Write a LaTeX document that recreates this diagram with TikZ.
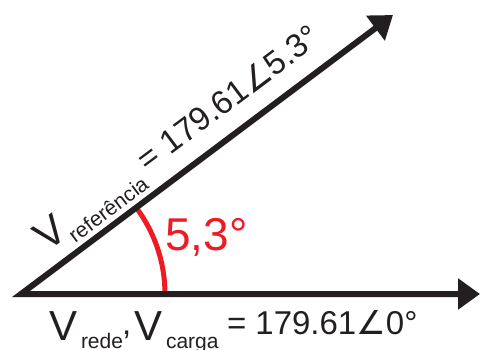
\documentclass[tikz,border=0pt]{standalone}
\usepackage{fontspec}
\setmainfont{Liberation Sans}
\newfontfamily\symfont{DejaVu Sans}
\usetikzlibrary{arrows.meta}
\definecolor{ink}{HTML}{231F20}
\definecolor{angred}{HTML}{ED1C24}
\newcommand{\fsz}[1]{\fontsize{#1}{#1}\selectfont}
\begin{document}
\begin{tikzpicture}[x=1pt,y=1pt,
  vec/.style={draw=ink,line width=6pt,line join=miter,
    {Triangle[length=22pt,width=30pt]}-{Triangle[length=22pt,width=30pt]}},
  angarc/.style={draw=angred,line width=5pt},
  lbl/.style={inner sep=0pt,outer sep=0pt,anchor=base west,text=ink},
  bigv/.style={lbl,font=\fsz{42}},
  subs/.style={lbl,font=\fsz{21}},
  num/.style={lbl,font=\fsz{33}},
  rlbl/.style={inner sep=0pt,anchor=base west,text=angred,font=\fsz{46}}]
\useasboundingbox (0,0) rectangle (480,349);
\coordinate (O) at (21,55);
\coordinate (H) at (480,55);
\coordinate (S) at (393,334);
% angle arc
\draw[angarc] (165,55) arc[start angle=0,end angle=36.87,radius=144];
% vectors
\draw[vec] (H) -- (O) -- (S);
% angle label
\node[rlbl] (ang) at (165,99) {5,3°};
% bottom label
\node[bigv] (v1) at (49,9) {V};
\node[subs] (s1) at (81,1) {rede};
\node[num] (cm) at (122,15) {,};
\node[bigv] (v2) at (134,9) {V};
\node[subs] (s2) at (166,1) {carga};
\node[num] (n1) at (227,15) {= 179.61{\symfont ∠}0°};
% rotated label
\begin{scope}[shift={(O)},rotate=36.87,transform shape]
\node[bigv] (v3) at (46,17) {V};
\node[subs] (s3) at (74,8) {referência};
\node[num] (n2) at (174,21) {= 179.61{\symfont ∠}5.3°};
\end{scope}
\end{tikzpicture}
\end{document}
